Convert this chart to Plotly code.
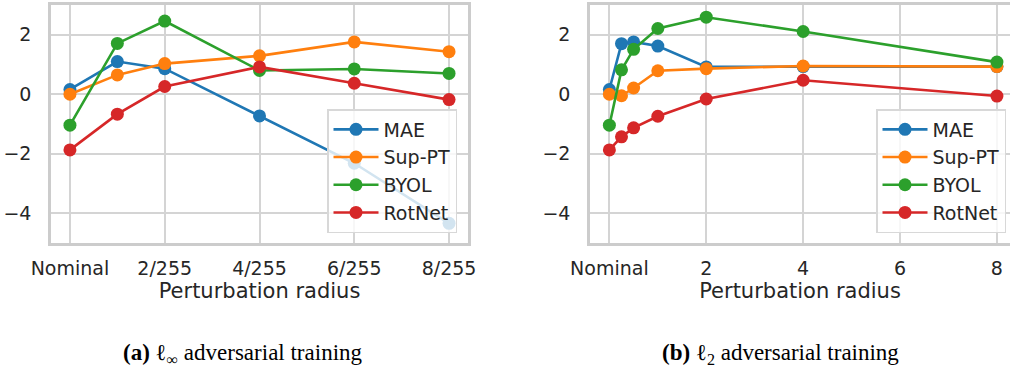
import plotly.graph_objects as go

# ---------------- data ----------------
methods = ["MAE", "Sup-PT", "BYOL", "RotNet"]
colors = ["#1f77b4", "#ff7f0e", "#2ca02c", "#d62728"]

# (a) l_inf: radius in units of 1/255 (0 = Nominal)
linf_radius = [0, 1, 2, 4, 6, 8]
linf_mae = [0.16, 1.10, 0.86, -0.73, -2.32, -4.34]
linf_sup = [0.00, 0.65, 1.03, 1.29, 1.76, 1.43]
linf_byol = [-1.04, 1.71, 2.46, 0.80, 0.85, 0.70]
linf_rot = [-1.87, -0.67, 0.26, 0.92, 0.37, -0.18]
linf_ticks = [0, 2, 4, 6, 8]
linf_ticklabels = ["Nominal", "2/255", "4/255", "6/255", "8/255"]

# (b) l_2
l2_radius = [0, 0.25, 0.5, 1, 2, 4, 8]
l2_mae = [0.16, 1.70, 1.76, 1.62, 0.92, 0.93, 0.93]
l2_sup = [0.00, -0.05, 0.21, 0.79, 0.86, 0.95, 0.93]
l2_byol = [-1.04, 0.82, 1.51, 2.21, 2.59, 2.11, 1.08]
l2_rot = [-1.87, -1.43, -1.13, -0.74, -0.16, 0.47, -0.06]
l2_ticks = [0, 2, 4, 6, 8]
l2_ticklabels = ["Nominal", "2", "4", "6", "8"]

y_ticks = [-4, -2, 0, 2]
y_ticklabels = ["\u22124", "\u22122", "0", "2"]

captions = ["<b>(a)</b> \u2113<sub>\u221e</sub> adversarial training",
            "<b>(b)</b> \u2113<sub>2</sub> adversarial training"]

# ---------------- figure ----------------
fig = go.Figure()
W, H = 1010, 368

panels = [
    (linf_radius, [linf_mae, linf_sup, linf_byol, linf_rot], "x", "y", "legend"),
    (l2_radius, [l2_mae, l2_sup, l2_byol, l2_rot], "x2", "y2", "legend2"),
]
for xs, series, xa, ya, lg in panels:
    for name, col, ys in zip(methods, colors, series):
        fig.add_trace(go.Scatter(
            x=xs, y=ys, name=name, mode="lines+markers",
            line=dict(color=col, width=2.6),
            marker=dict(color=col, size=13),
            xaxis=xa, yaxis=ya, legend=lg, legendgroup=lg + name,
        ))

font_fam = "DejaVu Sans"
tick_col = "#262626"
grid_col = "#d4d4d4"
spine_col = "#cccccc"

common_x = dict(showgrid=True, gridcolor=grid_col, gridwidth=1.5, zeroline=False,
                showline=True, linecolor=spine_col, linewidth=2.5, mirror=True,
                ticks="outside", ticklen=6, tickcolor="rgba(0,0,0,0)", automargin=False,
                tickfont=dict(family=font_fam, size=19, color=tick_col),
                title=dict(text="Perturbation radius", standoff=4,
                           font=dict(family=font_fam, size=21, color=tick_col)))
common_y = dict(showgrid=True, gridcolor=grid_col, gridwidth=1.5, zeroline=False,
                showline=True, linecolor=spine_col, linewidth=2.5, mirror=True,
                ticks="outside", ticklen=13, tickcolor="rgba(0,0,0,0)", automargin=False,
                tickfont=dict(family=font_fam, size=19, color=tick_col),
                range=[-5, 3], tickvals=y_ticks, ticktext=y_ticklabels)

legend_common = dict(yanchor="bottom", xanchor="right",
                     bgcolor="rgba(255,255,255,0.8)", bordercolor="#d8d8d8", borderwidth=1.5,
                     font=dict(family=font_fam, size=19, color=tick_col),
                     tracegroupgap=0, itemwidth=45)

fig.update_layout(
    width=W, height=H, margin=dict(l=0, r=0, t=0, b=0, autoexpand=False),
    paper_bgcolor="white", plot_bgcolor="white",
    xaxis=dict(domain=[51 / W, 468 / W], range=[-0.40, 8.40],
               tickvals=linf_ticks, ticktext=linf_ticklabels, anchor="y", **common_x),
    yaxis=dict(domain=[1 - 243 / H, 1 - 5 / H], anchor="x", **common_y),
    xaxis2=dict(domain=[590 / W, 1.0], range=[-0.40, 8.27],
                tickvals=l2_ticks, ticktext=l2_ticklabels, anchor="y2", **common_x),
    yaxis2=dict(domain=[1 - 243 / H, 1 - 5 / H], anchor="x2", **common_y),
    legend=dict(x=457 / W, y=1 - 233 / H, **legend_common),
    legend2=dict(x=1006 / W, y=1 - 233 / H, **legend_common),
    showlegend=True,
)

for cap, cx in zip(captions, [243, 780]):
    fig.add_annotation(text=cap, x=cx / W, y=1 - 354 / H, xref="paper", yref="paper",
                       xanchor="center", yanchor="middle", showarrow=False,
                       font=dict(family="Liberation Serif", size=23, color="black"))

fig.write_html("out.html", config={"displayModeBar": False},
               post_script="document.body.style.margin='0px';document.body.style.overflow='hidden';")
